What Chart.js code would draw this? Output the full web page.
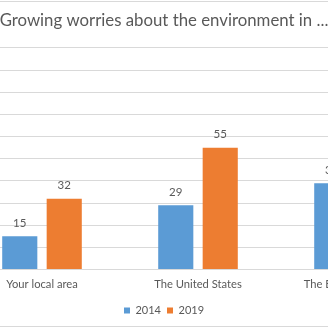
<!DOCTYPE html>
<html><head><meta charset="utf-8">
<script src="https://cdn.jsdelivr.net/npm/chart.js@4"></script>
<style>
html,body{margin:0;padding:0;background:#fff;overflow:hidden;width:328px;height:328px;position:relative;}
#wrap{position:absolute;left:-105px;top:1px;width:536px;height:324px;border:1px solid #d9d9d9;background:#fff;}
canvas{display:block;}
</style></head><body>
<div id="wrap"><canvas id="c" width="536" height="324"></canvas></div>
<script>
const categories = ["Your local area", "The United States", "The European Union"];
const series2014 = [15, 29, 39];
const series2019 = [32, 55, 60];
const seriesNames = ["2014", "2019"];
const yTickValues = [0, 10, 20, 30, 40, 50, 60, 70, 80, 90, 100];
const titleText = "Growing worries about the environment in ...";

const TEXT = '#595959';
const FONT = 'Lato, "Liberation Sans", sans-serif';

const valueLabels = {
  id: 'valueLabels',
  afterDatasetsDraw(chart) {
    const ctx = chart.ctx;
    ctx.save();
    ctx.font = '11.5px ' + FONT;
    ctx.fillStyle = TEXT;
    ctx.textAlign = 'center';
    ctx.textBaseline = 'middle';
    chart.data.datasets.forEach((ds, i) => {
      const meta = chart.getDatasetMeta(i);
      meta.data.forEach((bar, j) => {
        ctx.fillText(String(ds.data[j]), bar.x, bar.y - 13);
      });
    });
    ctx.restore();
  }
};

new Chart(document.getElementById('c'), {
  type: 'bar',
  data: {
    labels: categories,
    datasets: [
      { label: seriesNames[0], data: series2014, backgroundColor: '#5B9BD5', categoryPercentage: 0.57, barPercentage: 0.79 },
      { label: seriesNames[1], data: series2019, backgroundColor: '#ED7D31', categoryPercentage: 0.57, barPercentage: 0.79 }
    ]
  },
  options: {
    responsive: false,
    animation: false,
    devicePixelRatio: 1,
    layout: { padding: 0 },
    plugins: {
      title: {
        display: true, text: titleText, color: TEXT,
        font: { family: FONT, size: 16.8, weight: 'normal', lineHeight: 1.2 },
        padding: { top: 8.5, bottom: 17.3 }
      },
      legend: {
        position: 'bottom',
        labels: { color: TEXT, font: { family: FONT, size: 11 }, boxWidth: 6, boxHeight: 6, padding: 6 }
      },
      tooltip: { enabled: false }
    },
    scales: {
      x: {
        grid: { display: false, drawTicks: false },
        border: { display: true, color: '#d9d9d9' },
        ticks: { color: TEXT, font: { family: FONT, size: 11.2 }, padding: 8, maxRotation: 0, autoSkip: false }
      },
      y: {
        min: 0, max: 100,
        afterBuildTicks(scale) { scale.ticks = yTickValues.map(v => ({ value: v })); },
        afterFit(scale) { scale.width = 68; },
        grid: { color: '#d9d9d9', drawTicks: false },
        border: { display: false },
        ticks: { color: TEXT, font: { family: FONT, size: 11.2 }, padding: 8 }
      }
    }
  },
  plugins: [valueLabels]
});
</script>
</body></html>
